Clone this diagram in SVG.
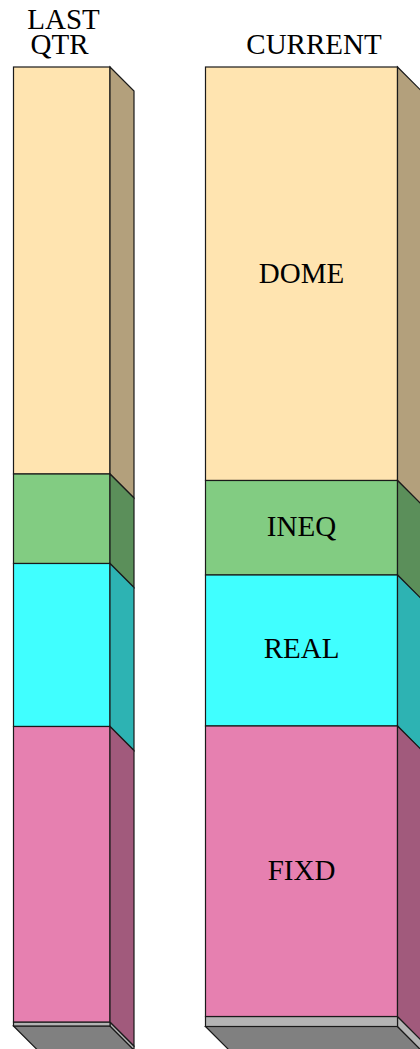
<svg xmlns="http://www.w3.org/2000/svg" width="420" height="1049" viewBox="0 0 420 1049">
<style>
  .f { stroke: #1a1a1a; stroke-width: 1.2; stroke-linejoin: miter; }
  .dome { fill: #FFE4B0; } .domeS { fill: #B3A07C; }
  .ineq { fill: #82CC82; } .ineqS { fill: #5B8F5A; }
  .real { fill: #40FFFF; } .realS { fill: #2DB3B3; }
  .fixd { fill: #E680B0; } .fixdS { fill: #A15A7C; }
  .base { fill: #B4B4B4; } .floor { fill: #808080; }
  text { font-family: "Liberation Serif", "Times New Roman", serif; font-size: 29px; fill: #000; text-anchor: middle; }
</style>
<rect width="420" height="1049" fill="#fff"/>

<g id="header">
  <text x="63.5" y="29">LAST</text>
  <text x="59.5" y="54">QTR</text>
  <text x="314" y="54">CURRENT</text>
</g>

<g id="bar-last">
  <g id="last-floor">
    <polygon class="f floor" points="13.5,1026 110,1026 134,1050 37.5,1050"/>
    <polygon class="f base" points="110,1022 134,1046 134,1050 110,1026"/>
    <rect class="f base" x="13.5" y="1022" width="96.5" height="4"/>
  </g>
  <g id="last-dome">
    <rect class="f dome" x="13.5" y="67" width="96.5" height="407"/>
    <polygon class="f domeS" points="110,67 134,91 134,498 110,474"/>
  </g>
  <g id="last-ineq">
    <rect class="f ineq" x="13.5" y="474" width="96.5" height="89.5"/>
    <polygon class="f ineqS" points="110,474 134,498 134,587.5 110,563.5"/>
  </g>
  <g id="last-real">
    <rect class="f real" x="13.5" y="563.5" width="96.5" height="163"/>
    <polygon class="f realS" points="110,563.5 134,587.5 134,750.5 110,726.5"/>
  </g>
  <g id="last-fixd">
    <rect class="f fixd" x="13.5" y="726.5" width="96.5" height="295.5"/>
    <polygon class="f fixdS" points="110,726.5 134,750.5 134,1046 110,1022"/>
  </g>
</g>

<g id="bar-current">
  <g id="cur-floor">
    <polygon class="f floor" points="205.5,1026.5 397.5,1026.5 421.5,1050.5 229.5,1050.5"/>
    <polygon class="f base" points="397.5,1016.5 421.5,1040.5 421.5,1050.5 397.5,1026.5"/>
    <rect class="f base" x="205.5" y="1016.5" width="192" height="10"/>
  </g>
  <g id="cur-dome">
    <rect class="f dome" x="205.5" y="67" width="192" height="413.5"/>
    <polygon class="f domeS" points="397.5,67 421.5,91 421.5,504.5 397.5,480.5"/>
    <text x="301.5" y="282.5">DOME</text>
  </g>
  <g id="cur-ineq">
    <rect class="f ineq" x="205.5" y="480.5" width="192" height="94.5"/>
    <polygon class="f ineqS" points="397.5,480.5 421.5,504.5 421.5,599 397.5,575"/>
    <text x="301.5" y="536">INEQ</text>
  </g>
  <g id="cur-real">
    <rect class="f real" x="205.5" y="575" width="192" height="151"/>
    <polygon class="f realS" points="397.5,575 421.5,599 421.5,750 397.5,726"/>
    <text x="301.5" y="657.5">REAL</text>
  </g>
  <g id="cur-fixd">
    <rect class="f fixd" x="205.5" y="726" width="192" height="290.5"/>
    <polygon class="f fixdS" points="397.5,726 421.5,750 421.5,1040.5 397.5,1016.5"/>
    <text x="301.5" y="880">FIXD</text>
  </g>
</g>
</svg>
